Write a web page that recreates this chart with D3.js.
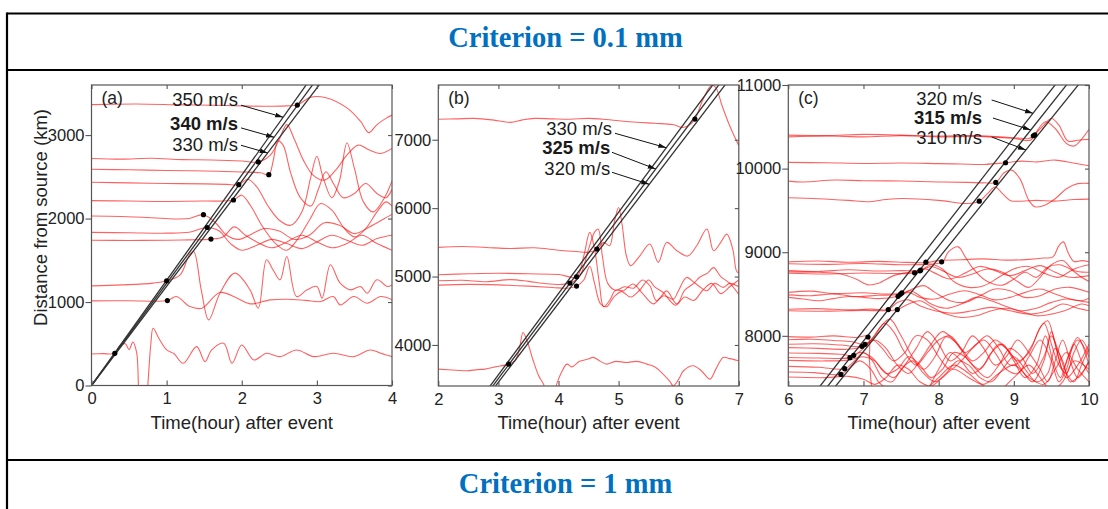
<!DOCTYPE html>
<html>
<head>
<meta charset="utf-8">
<script src="https://cdn.jsdelivr.net/npm/d3@7"></script>
<style>
body { margin: 0; background: #fff; }
svg { display: block; }
</style>
</head>
<body>
<svg id="draw" width="1108" height="509"></svg>
<script>
// ---------- data ----------
const headerTexts = ["Criterion = 0.1 mm", "Criterion = 1 mm"];
const panelLabels = ["(a)", "(b)", "(c)"];
const xTitle = "Time(hour) after event";
const yTitle = "Distance from source (km)";

// panel (a)
const timeDomainA = [0, 4], distDomainA = [0, 3600];
const timeTicksA = [0, 1, 2, 3, 4], distTicksA = [0, 1000, 2000, 3000];
const speedsA = [350, 340, 330];
const labelAnchorsA = [[1.95, 3426], [1.95, 3138], [1.95, 2890]];
const arrowFromA = [[1.99, 3358], [1.99, 3086], [1.99, 2878]];
const arrowHitA = [3214, 2974, 2786];
const picksA = [[0.31, 386], [1.0, 1254], [1.01, 1018], [1.49, 2046], [1.54, 1893], [1.59, 1754],
  [1.89, 2222], [1.96, 2406], [2.22, 2678], [2.36, 2526], [2.74, 3360]];
const tracesA = [
  [[0,3365],[0.6,3372],[1.2,3362],[1.8,3355],[2.3,3345],[2.6,3350],[2.74,3360],[2.92,3455],[3.12,3448],[3.4,3326],[3.58,3166],[3.69,3030],[3.8,3126],[3.93,3206],[4,3240]],
  [[0,2720],[0.4,2712],[0.8,2722],[1.2,2706],[1.6,2702],[2.0,2690],[2.22,2678],[2.38,2760],[2.5,2950],[2.6,3125],[2.7,2950],[2.82,2700],[2.95,2520],[3.1,2460],[3.25,2580],[3.4,2760],[3.55,2880],[3.7,2820],[3.85,2780],[4,2840]],
  [[0,2590],[0.5,2584],[1,2576],[1.5,2570],[2,2558],[2.25,2548],[2.36,2526],[2.42,2700],[2.48,2930],[2.55,2880],[2.65,2550],[2.78,2250],[2.92,2150],[3.02,2350],[3.12,2560],[3.22,2420],[3.35,2250],[3.5,2300],[3.65,2420],[3.8,2300],[3.92,2250],[4,2350]],
  [[0,2435],[0.5,2428],[1,2420],[1.5,2415],[1.8,2410],[1.96,2406],[2.08,2470],[2.2,2380],[2.35,2150],[2.5,1980],[2.65,1920],[2.8,2080],[2.92,2500],[3.0,2746],[3.08,2500],[3.2,2250],[3.3,2450],[3.4,2906],[3.5,2600],[3.62,2200],[3.75,2080],[3.9,2250],[4,2450]],
  [[0,2215],[0.5,2210],[1,2205],[1.5,2210],[1.89,2222],[2.0,2280],[2.12,2150],[2.28,1900],[2.45,1700],[2.6,1620],[2.75,1760],[2.9,1980],[3.05,2180],[3.2,2100],[3.35,1900],[3.5,1780],[3.65,1880],[3.8,2080],[3.92,2200],[4,2150]],
  [[0,2030],[0.4,2025],[0.8,2010],[1.1,1995],[1.3,2000],[1.49,2046],[1.65,1950],[1.8,1800],[1.95,1750],[2.1,1800],[2.3,1880],[2.5,1850],[2.7,1750],[2.9,1800],[3.1,1950],[3.3,1920],[3.5,1820],[3.7,1900],[3.9,2000],[4,2050]],
  [[0,1835],[0.5,1830],[1,1825],[1.3,1835],[1.54,1893],[1.7,1850],[1.85,1700],[2.0,1620],[2.2,1680],[2.4,1750],[2.6,1700],[2.8,1640],[3.0,1720],[3.2,1800],[3.4,1740],[3.6,1680],[3.8,1760],[4,1800]],
  [[0,1740],[0.5,1738],[1,1740],[1.3,1745],[1.59,1754],[1.75,1780],[1.9,1900],[2.05,1800],[2.2,1720],[2.4,1650],[2.6,1720],[2.8,1800],[3.0,1720],[3.2,1650],[3.4,1700],[3.6,1800],[3.8,1700],[4,1620]],
  [[0,1194],[0.4,1205],[0.82,1226],[1.0,1254],[1.18,1326],[1.3,1560],[1.36,1606],[1.46,1150],[1.56,786],[1.71,1106],[1.91,1346],[2.11,1146],[2.22,926],[2.33,1506],[2.42,1380],[2.51,1266],[2.6,1546],[2.73,1066],[2.87,1146],[3.0,1186],[3.07,1046],[3.18,1446],[3.31,1226],[3.45,1146],[3.58,1186],[3.67,1106],[3.8,1266],[3.94,1186],[4,1206]],
  [[0,1014],[0.5,1016],[1.01,1018],[1.13,1066],[1.31,946],[1.47,926],[1.71,1114],[1.94,1046],[2.11,978],[2.38,1026],[2.6,1034],[2.85,1020],[3.05,1006],[3.22,1066],[3.31,966],[3.49,1066],[3.67,986],[3.85,1066],[4,1026]],
  [[0,378],[0.15,382],[0.31,386],[0.38,480],[0.45,500],[0.5,430],[0.55,520],[0.6,400],[0.64,-200],[0.7,-400],[0.74,-100],[0.79,500],[0.82,686],[0.9,560],[1.0,426],[1.1,380],[1.22,266],[1.4,466],[1.51,286],[1.6,426],[1.76,506],[1.87,266],[2.0,486],[2.16,306],[2.33,386],[2.51,346],[2.73,426],[2.96,346],[3.22,386],[3.49,346],[3.71,426],[3.85,386],[4,346]]
];

// panel (b)
const timeDomainB = [2, 7], distDomainB = [3400, 7800];
const timeTicksB = [2, 3, 4, 5, 6, 7], distTicksB = [4000, 5000, 6000, 7000];
const speedsB = [330, 325, 320];
const labelAnchorsB = [[4.89, 7171], [4.86, 6891], [4.86, 6587]];
const arrowFromB = [[4.94, 7094], [4.89, 6816], [4.89, 6524]];
const arrowHitB = [6883, 6572, 6348];
const picksB = [[3.17, 3720], [4.19, 4904], [4.3, 4997], [4.3, 4860], [4.64, 5401], [6.27, 7302]];
const tracesB = [
  [[2,7300],[2.3,7305],[2.6,7312],[2.9,7290],[3.2,7254],[3.4,7290],[3.6,7312],[3.9,7305],[4.2,7300],[4.5,7312],[4.8,7295],[5.0,7278],[5.3,7256],[5.6,7240],[5.9,7222],[6.05,7180],[6.15,7200],[6.27,7302],[6.4,7580],[6.55,7800],[6.62,7760],[6.72,7500],[6.85,7200],[7,6913]],
  [[2,5426],[2.4,5440],[2.8,5425],[3.2,5410],[3.6,5420],[4.0,5385],[4.3,5365],[4.5,5355],[4.64,5401],[4.75,5500],[4.85,5450],[4.93,5800],[5.0,6010],[5.06,5750],[5.13,5300],[5.2,5160],[5.35,5300],[5.52,5475],[5.66,5207],[5.8,5499],[5.97,5377],[6.15,5300],[6.3,5450],[6.47,5694],[6.58,5377],[6.7,5500],[6.8,5620],[6.9,5400],[6.96,5085],[7,5050]],
  [[2,5026],[2.5,5040],[3,5048],[3.5,5040],[4,5030],[4.3,4997],[4.42,5300],[4.52,5645],[4.6,5400],[4.68,4900],[4.75,4560],[4.85,4650],[4.95,4800],[5.08,4792],[5.24,4890],[5.4,4750],[5.58,4600],[5.7,4700],[5.8,4790],[5.97,4600],[6.1,4800],[6.25,4900],[6.35,4990],[6.48,5050],[6.58,5130],[6.7,5000],[6.85,4900],[7,4740]],
  [[2,4938],[2.4,4945],[2.8,4925],[3.2,4955],[3.5,4930],[3.8,4895],[4.05,4885],[4.19,4904],[4.35,5000],[4.5,5400],[4.6,5650],[4.66,5694],[4.73,5300],[4.82,4900],[4.95,4800],[5.1,4850],[5.25,4830],[5.4,4950],[5.52,4865],[5.63,4646],[5.75,4720],[5.91,4670],[6.0,4800],[6.13,4987],[6.25,4920],[6.35,4850],[6.47,4792],[6.6,4900],[6.74,4841],[6.85,4900],[7,4850]],
  [[2,4875],[2.5,4885],[3,4878],[3.5,4860],[3.9,4840],[4.15,4830],[4.3,4860],[4.42,4950],[4.52,5150],[4.6,4900],[4.7,4600],[4.8,4560],[4.92,4700],[5.05,4780],[5.2,4700],[5.35,4800],[5.5,4950],[5.6,4850],[5.75,4760],[5.85,4650],[5.95,4580],[6.1,4700],[6.25,4650],[6.4,4800],[6.55,4900],[6.7,4750],[6.85,4850],[7,4950]],
  [[2,3647],[2.3,3630],[2.47,3623],[2.65,3640],[2.78,3647],[2.95,3680],[3.17,3720],[3.28,3770],[3.35,3950],[3.41,4183],[3.48,4050],[3.58,3769],[3.67,3550],[3.75,3428],[3.82,3250],[3.9,3250],[3.97,3428],[4.05,3600],[4.14,3720],[4.22,3680],[4.35,3760],[4.48,3790],[4.58,3818],[4.7,3760],[4.8,3720],[4.95,3760],[5.13,3744],[5.3,3760],[5.47,3720],[5.6,3680],[5.74,3574],[5.85,3470],[5.91,3403],[6.0,3500],[6.08,3623],[6.24,3696],[6.38,3620],[6.52,3501],[6.62,3650],[6.74,3818],[6.85,3800],[7,3769]]
];

// panel (c)
const timeDomainC = [6, 10], distDomainC = [7400, 11000];
const timeTicksC = [6, 7, 8, 9, 10], distTicksC = [8000, 9000, 10000, 11000];
const speedsC = [320, 315, 310];
const labelAnchorsC = [[8.576, 10841], [8.576, 10609], [8.576, 10370]];
const arrowFromC = [[8.705, 10821], [8.722, 10605], [8.705, 10378]];
const arrowHitC = [10661, 10462, 10223];
const picksC = [[9.26, 10393], [9.28, 10405], [8.89, 10070], [8.76, 9835], [8.54, 9611], [7.83, 8881], [8.04, 8885],
  [7.76, 8785], [7.75, 8777], [7.68, 8753], [7.51, 8513], [7.49, 8497], [7.46, 8473], [7.33, 8314], [7.45, 8314],
  [7.06, 7986], [7.02, 7898], [6.98, 7874], [6.87, 7767], [6.82, 7739], [6.75, 7607], [6.7, 7539]];
const tracesC = [
  [[6,10400],[6.5,10395],[7,10410],[7.5,10400],[8,10390],[8.5,10395],[9,10370],[9.2,10360],[9.26,10393],[9.4,10520],[9.5,10600],[9.6,10520],[9.72,10330],[9.85,10340],[10,10350]],
  [[6,10380],[6.5,10390],[7,10380],[7.5,10395],[8,10380],[8.5,10385],[9,10360],[9.22,10340],[9.28,10410],[9.42,10560],[9.55,10480],[9.7,10300],[9.8,10270],[9.9,10350],[10,10470]],
  [[6,10074],[6.5,10070],[7,10062],[7.5,10068],[8,10060],[8.3,10055],[8.61,10050],[8.89,10070],[9.1,10090],[9.3,10080],[9.55,10102],[9.77,10070],[10,10034]],
  [[6,9850],[6.2,9840],[6.62,9863],[7,9855],[7.51,9851],[8,9840],[8.39,9835],[8.6,9830],[8.76,9835],[8.87,9950],[8.97,9982],[9.08,9880],[9.2,9620],[9.28,9543],[9.4,9560],[9.55,9640],[9.7,9760],[9.85,9820],[10,9823]],
  [[6,9651],[6.4,9640],[6.8,9620],[7.06,9603],[7.3,9630],[7.51,9643],[8,9620],[8.39,9583],[8.54,9611],[8.65,9700],[8.75,9780],[8.85,9700],[8.95,9620],[9.1,9610],[9.3,9620],[9.55,9611],[9.8,9630],[10,9635]],
  [[6,8884],[6.4,8895],[6.8,8880],[7.2,8890],[7.6,8878],[7.83,8876],[8.0,8900],[8.3,8910],[8.6,8920],[8.9,8905],[9.2,8915],[9.4,8930],[9.52,8944],[9.6,9080],[9.66,9124],[9.72,9000],[9.8,8890],[9.9,8900],[10,8885]],
  [[6,8862],[6.5,8855],[7,8865],[7.5,8850],[7.8,8855],[8.05,8885],[8.13,9004],[8.26,9064],[8.35,8950],[8.44,8825],[8.62,8665],[8.84,8605],[9.0,8680],[9.15,8760],[9.3,8700],[9.45,8820],[9.6,8850],[9.75,8800],[9.9,8700],[10,8650]],
  [[6,8780],[6.4,8770],[6.8,8790],[7.2,8775],[7.5,8780],[7.76,8784],[7.9,8830],[8.05,8780],[8.25,8700],[8.45,8740],[8.65,8800],[8.85,8760],[9.05,8650],[9.2,8580],[9.35,8700],[9.5,8850],[9.65,8900],[9.8,8780],[10,8760]],
  [[6,8765],[6.4,8760],[6.7,8740],[6.9,8680],[7.06,8610],[7.2,8630],[7.4,8720],[7.6,8760],[7.75,8777],[7.9,8850],[8.05,8800],[8.2,8650],[8.4,8580],[8.6,8600],[8.8,8700],[9.0,8800],[9.2,8830],[9.4,8750],[9.6,8700],[9.8,8800],[10,8850]],
  [[6,8748],[6.5,8740],[7,8752],[7.4,8745],[7.68,8753],[7.82,8800],[7.95,8750],[8.15,8680],[8.35,8750],[8.55,8830],[8.75,8780],[8.95,8720],[9.15,8780],[9.35,8840],[9.55,8760],[9.75,8700],[10,8720]],
  [[6,8520],[6.3,8535],[6.6,8505],[7.0,8515],[7.3,8500],[7.52,8513],[7.65,8560],[7.8,8600],[7.95,8520],[8.15,8420],[8.35,8400],[8.55,8480],[8.75,8560],[8.95,8540],[9.15,8460],[9.35,8480],[9.55,8560],[9.75,8580],[10,8520]],
  [[6,8490],[6.3,8480],[6.6,8500],[6.9,8470],[7.2,8485],[7.5,8497],[7.62,8540],[7.75,8480],[7.9,8380],[8.1,8330],[8.3,8380],[8.5,8460],[8.7,8420],[8.9,8350],[9.1,8300],[9.3,8330],[9.5,8400],[9.7,8440],[9.9,8420],[10,8450]],
  [[6,8460],[6.2,8440],[6.4,8420],[6.6,8445],[6.8,8470],[7.0,8460],[7.2,8445],[7.46,8473],[7.6,8520],[7.75,8460],[7.95,8440],[8.15,8500],[8.35,8540],[8.55,8490],[8.75,8430],[8.95,8460],[9.15,8520],[9.35,8560],[9.55,8500],[9.75,8440],[10,8400]],
  [[6,8318],[6.4,8325],[6.8,8310],[7.1,8320],[7.33,8314],[7.45,8400],[7.6,8430],[7.75,8360],[7.95,8300],[8.2,8270],[8.45,8300],[8.7,8340],[8.95,8300],[9.2,8260],[9.45,8300],[9.65,8380],[9.85,8330],[10,8300]],
  [[6,8300],[6.5,8295],[7,8305],[7.3,8300],[7.45,8314],[7.6,8380],[7.75,8420],[7.9,8350],[8.1,8260],[8.3,8220],[8.5,8240],[8.7,8300],[8.9,8330],[9.1,8290],[9.3,8240],[9.5,8260],[9.7,8310],[9.9,8380],[10,8360]],
  [[6,7990],[6.3,7985],[6.6,8000],[6.9,7980],[7.06,7994],[7.08,7700],[7.12,7300],[7.2,7000],[7.6,7050],[7.85,7350],[8.0,7600],[8.15,7800],[8.3,7700],[8.45,7550],[8.6,7650],[8.8,7900],[8.95,7800],[9.1,7600],[9.25,7450],[9.4,7700],[9.5,8050],[9.58,7800],[9.7,7500],[9.85,7650],[10,7900]],
  [[6,7954],[6.3,7960],[6.6,7945],[6.85,7930],[7.02,7898],[7.15,8000],[7.28,8150],[7.4,8050],[7.55,7800],[7.7,7650],[7.85,7800],[8.0,7950],[8.15,8000],[8.3,7850],[8.45,7700],[8.6,7800],[8.75,7950],[8.9,7850],[9.05,7700],[9.2,7800],[9.35,8100],[9.45,8180],[9.55,7900],[9.65,7600],[9.75,7800],[9.85,7950],[10,7750]],
  [[6,7899],[6.35,7905],[6.7,7890],[6.98,7874],[7.1,7950],[7.22,8100],[7.35,8200],[7.5,8000],[7.65,7750],[7.8,7600],[7.95,7750],[8.1,7990],[8.25,7900],[8.4,7700],[8.55,7600],[8.7,7800],[8.85,7900],[9.0,7700],[9.15,7500],[9.3,7650],[9.42,8000],[9.52,7700],[9.62,7500],[9.72,7750],[9.85,7980],[10,7650]],
  [[6,7859],[6.4,7850],[6.8,7840],[7.0,7870],[7.15,7950],[7.3,7850],[7.45,7650],[7.6,7550],[7.75,7700],[7.9,7900],[8.05,8050],[8.2,7950],[8.35,7800],[8.5,7900],[8.65,8000],[8.8,7850],[8.95,7650],[9.1,7700],[9.25,7900],[9.4,8150],[9.5,7900],[9.6,7650],[9.7,7550],[9.8,7800],[9.9,7950],[10,7800]],
  [[6,7795],[6.4,7790],[6.7,7780],[6.87,7767],[7.0,7850],[7.12,7950],[7.25,7850],[7.4,7700],[7.55,7800],[7.7,8000],[7.85,7950],[8.0,7750],[8.15,7600],[8.3,7700],[8.45,7850],[8.6,7950],[8.75,7800],[8.9,7600],[9.05,7550],[9.2,7750],[9.35,7950],[9.5,7700],[9.6,7450],[9.7,7600],[9.8,7900],[9.9,7700],[10,7550]],
  [[6,7740],[6.4,7735],[6.82,7739],[6.95,7800],[7.1,7750],[7.25,7600],[7.4,7500],[7.55,7650],[7.7,7850],[7.85,8050],[8.0,7900],[8.15,7700],[8.3,7800],[8.45,8000],[8.6,7850],[8.75,7650],[8.9,7750],[9.05,7950],[9.2,7800],[9.35,7600],[9.45,7450],[9.55,7700],[9.65,7950],[9.75,7700],[9.85,7500],[10,7700]],
  [[6,7707],[6.5,7700],[6.8,7710],[7.0,7750],[7.15,7700],[7.3,7550],[7.45,7600],[7.6,7750],[7.75,7650],[7.9,7500],[8.05,7600],[8.2,7800],[8.35,7750],[8.5,7600],[8.65,7500],[8.8,7650],[8.95,7850],[9.1,7750],[9.25,7550],[9.4,7750],[9.5,8000],[9.6,7800],[9.7,7550],[9.8,7450],[9.9,7650],[10,7850]],
  [[6,7635],[6.4,7625],[6.75,7607],[6.88,7700],[7.0,7800],[7.12,7700],[7.25,7500],[7.38,7450],[7.5,7600],[7.65,7700],[7.8,7550],[7.95,7450],[8.1,7550],[8.25,7700],[8.4,7650],[8.55,7500],[8.7,7450],[8.85,7600],[9.0,7750],[9.15,7600],[9.3,7450],[9.45,7550],[9.55,7850],[9.65,7700],[9.75,7450],[9.9,7550],[10,7700]],
  [[6,7567],[6.35,7560],[6.7,7539],[6.82,7620],[6.95,7700],[7.1,7600],[7.2,7450],[7.35,7350],[7.5,7300],[7.8,7350],[8.0,7500],[8.2,7650],[8.4,7550],[8.6,7400],[8.8,7350],[9.0,7500],[9.2,7650],[9.35,7500],[9.5,7350],[9.65,7450],[9.8,7700],[10,7600]],
  [[6,7507],[6.5,7500],[6.8,7515],[7.0,7480],[7.15,7420],[7.3,7500],[7.45,7650],[7.6,7600],[7.75,7450],[7.9,7400],[8.05,7500],[8.2,7600],[8.4,7500],[8.6,7420],[8.8,7550],[9.0,7650],[9.2,7500],[9.4,7420],[9.55,7600],[9.7,7800],[9.85,7600],[10,7450]]
];

// ---------- drawing ----------
const svg = d3.select("#draw");
const sans = "'Liberation Sans', Arial, Helvetica, sans-serif";

// table frame and headers
const frame = svg.append("g").attr("stroke", "#000").attr("stroke-width", 2.2);
frame.append("line").attr("x1", 7).attr("x2", 1108).attr("y1", 13.5).attr("y2", 13.5);
frame.append("line").attr("x1", 7).attr("x2", 1108).attr("y1", 70).attr("y2", 70);
frame.append("line").attr("x1", 7).attr("x2", 1108).attr("y1", 460).attr("y2", 460);
frame.append("line").attr("x1", 7).attr("x2", 7).attr("y1", 12.4).attr("y2", 509);

svg.selectAll("text.header")
  .data(headerTexts)
  .enter()
  .append("text")
  .attr("class", "header")
  .attr("x", 565.5)
  .attr("y", (d, i) => i === 0 ? 47 : 493)
  .attr("text-anchor", "middle")
  .attr("font-family", "'Liberation Serif', 'Times New Roman', serif")
  .attr("font-weight", "bold")
  .attr("font-size", 28.5)
  .attr("fill", "#0070C0")
  .text(d => d);

const defs = svg.append("defs");
defs.append("marker")
  .attr("id", "arrow")
  .attr("viewBox", "0 0 8 6")
  .attr("refX", 8).attr("refY", 3)
  .attr("markerWidth", 8).attr("markerHeight", 6)
  .attr("markerUnits", "userSpaceOnUse")
  .attr("orient", "auto")
  .append("path")
  .attr("d", "M0,0.6 L8,3 L0,5.4 Z")
  .attr("fill", "#111");

const panels = [
  { label: panelLabels[0], box: [91.5, 392, 85, 385.5], tDom: timeDomainA, dDom: distDomainA, tTicks: timeTicksA, dTicks: distTicksA,
    speeds: speedsA, anchors: labelAnchorsA, from: arrowFromA, hit: arrowHitA, traces: tracesA, picks: picksA },
  { label: panelLabels[1], box: [438.3, 738.8, 85, 386], tDom: timeDomainB, dDom: distDomainB, tTicks: timeTicksB, dTicks: distTicksB,
    speeds: speedsB, anchors: labelAnchorsB, from: arrowFromB, hit: arrowHitB, traces: tracesB, picks: picksB },
  { label: panelLabels[2], box: [788.3, 1089, 85, 386], tDom: timeDomainC, dDom: distDomainC, tTicks: timeTicksC, dTicks: distTicksC,
    speeds: speedsC, anchors: labelAnchorsC, from: arrowFromC, hit: arrowHitC, traces: tracesC, picks: picksC }
];

panels.forEach((p, k) => {
  let [x0, x1, y0, y1] = p.box;
  let x = d3.scaleLinear().domain(p.tDom).range([x0, x1]),
      y = d3.scaleLinear().domain(p.dDom).range([y1, y0]);
  let g = svg.append("g");

  defs.append("clipPath").attr("id", "clip" + k)
    .append("rect").attr("x", x0).attr("y", y0).attr("width", x1 - x0).attr("height", y1 - y0);
  let plot = g.append("g").attr("clip-path", "url(#clip" + k + ")");

  // red waveforms
  let line = d3.line().x(c => x(c[0])).y(c => y(c[1])).curve(d3.curveCatmullRom.alpha(0.5));
  plot.selectAll("path.trace")
    .data(p.traces)
    .enter()
    .append("path")
    .attr("class", "trace")
    .attr("d", line)
    .attr("fill", "none")
    .attr("stroke", "#ff0000")
    .attr("stroke-opacity", 0.62)
    .attr("stroke-width", 1.1);

  // travel-time lines (distance = speed * time)
  let tEnd = p.tDom[1];
  plot.selectAll("path.speed")
    .data(p.speeds)
    .enter()
    .append("path")
    .attr("class", "speed")
    .attr("d", v => d3.line()([[x(0), y(0)], [x(tEnd), y(v * 3.6 * tEnd)]]))
    .attr("fill", "none")
    .attr("stroke", "#333")
    .attr("stroke-width", 1.3);

  // picked arrivals
  plot.selectAll("circle")
    .data(p.picks)
    .enter()
    .append("circle")
    .attr("cx", c => x(c[0]))
    .attr("cy", c => y(c[1]))
    .attr("r", 2.6)
    .attr("fill", "#000");

  // frame and axes
  g.append("rect")
    .attr("x", x0).attr("y", y0).attr("width", x1 - x0).attr("height", y1 - y0)
    .attr("fill", "none").attr("stroke", "#555").attr("stroke-width", 1.2);

  let styleAxis = a => {
    a.select(".domain").remove();
    a.selectAll(".tick line").attr("stroke", "#555").attr("stroke-width", 1.1);
    a.selectAll(".tick text").attr("fill", "#222").attr("font-family", sans).attr("font-size", 16.5);
  };
  g.append("g").attr("transform", "translate(0," + y1 + ")")
    .call(d3.axisBottom(x).tickValues(p.tTicks).tickSize(-5).tickPadding(7).tickFormat(d3.format("d")))
    .call(styleAxis);
  g.append("g").attr("transform", "translate(" + x0 + ",0)")
    .call(d3.axisLeft(y).tickValues(p.dTicks).tickSize(6).tickPadding(1).tickFormat(d3.format("d")))
    .call(styleAxis);
  g.append("g").attr("transform", "translate(0," + y0 + ")")
    .call(d3.axisTop(x).tickValues(p.tTicks).tickSize(-4).tickFormat(""))
    .call(styleAxis);
  g.append("g").attr("transform", "translate(" + x1 + ",0)")
    .call(d3.axisRight(y).tickValues(p.dTicks).tickSize(-4).tickFormat(""))
    .call(styleAxis);

  // titles
  g.append("text")
    .attr("x", (x0 + x1) / 2).attr("y", 428.5)
    .attr("text-anchor", "middle")
    .attr("font-family", sans).attr("font-size", 18.5).attr("fill", "#222")
    .text(xTitle);
  if (k === 0) {
    g.append("text")
      .attr("transform", "translate(46.5," + 217.5 + ") rotate(-90)")
      .attr("text-anchor", "middle")
      .attr("font-family", sans).attr("font-size", 18.5).attr("fill", "#222")
      .text(yTitle);
  }
  g.append("text")
    .attr("x", x0 + 10).attr("y", 104)
    .attr("font-family", sans).attr("font-size", 17.5).attr("fill", "#222")
    .text(p.label);

  // speed labels with arrows
  p.speeds.forEach((v, i) => {
    g.append("text")
      .attr("x", x(p.anchors[i][0])).attr("y", y(p.anchors[i][1]))
      .attr("dy", "0.36em")
      .attr("text-anchor", "end")
      .attr("font-family", sans).attr("font-size", 18.5)
      .attr("font-weight", i === 1 ? "bold" : "normal")
      .attr("fill", "#1a1a1a")
      .text(v + " m/s");
    let hitT = p.hit[i] / (v * 3.6);
    g.append("line")
      .attr("x1", x(p.from[i][0])).attr("y1", y(p.from[i][1]))
      .attr("x2", x(hitT)).attr("y2", y(p.hit[i]))
      .attr("stroke", "#111").attr("stroke-width", 1)
      .attr("marker-end", "url(#arrow)");
  });
});
</script>
</body>
</html>
